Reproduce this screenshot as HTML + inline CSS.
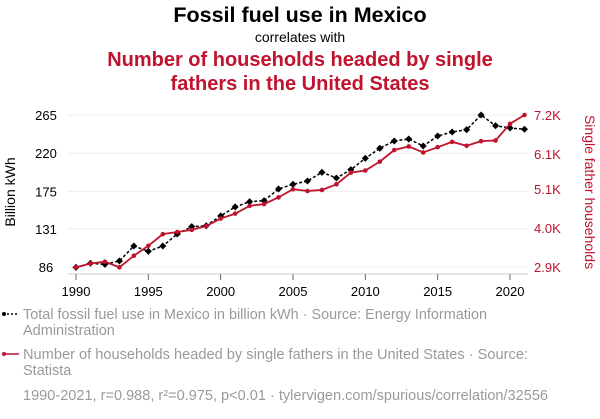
<!DOCTYPE html>
<html><head><meta charset="utf-8"><style>
body{margin:0;background:#fff;font-family:"Liberation Sans",sans-serif;}
svg text{font-family:"Liberation Sans",sans-serif;}
</style></head><body>
<svg width="600" height="414" xmlns="http://www.w3.org/2000/svg">
<text x="300" y="22" text-anchor="middle" font-size="21.5" font-weight="bold" fill="#000">Fossil fuel use in Mexico</text>
<text x="300" y="42" text-anchor="middle" font-size="14" fill="#000">correlates with</text>
<text x="300" y="66" text-anchor="middle" font-size="20" font-weight="bold" fill="#c0132e">Number of households headed by single</text>
<text x="300" y="90" text-anchor="middle" font-size="20" font-weight="bold" fill="#c0132e">fathers in the United States</text>
<g id="grid"></g><g id="axes"></g><g id="series"></g>
<text transform="translate(15,192) rotate(-90)" text-anchor="middle" font-size="14" fill="#000">Billion kWh</text>
<text transform="translate(585,192) rotate(90)" text-anchor="middle" font-size="14" fill="#c0132e">Single father households</text>
<g>
<line x1="3" y1="314" x2="19" y2="314" stroke="#000" stroke-width="1.5" stroke-dasharray="2,2"/><circle cx="4" cy="314" r="2" fill="#000"/>
<text x="23" y="319" font-size="14.5" fill="#9a9a9a" textLength="464" lengthAdjust="spacingAndGlyphs">Total fossil fuel use in Mexico in billion kWh · Source: Energy Information</text>
<text x="23" y="335" font-size="14.5" fill="#9a9a9a">Administration</text>
<line x1="3" y1="354" x2="19" y2="354" stroke="#c0132e" stroke-width="1.5"/><circle cx="4" cy="354" r="2" fill="#c0132e"/>
<text x="23" y="359" font-size="14.5" fill="#9a9a9a" textLength="505" lengthAdjust="spacingAndGlyphs">Number of households headed by single fathers in the United States · Source:</text>
<text x="23" y="375" font-size="14.5" fill="#9a9a9a">Statista</text>
<text x="23" y="400" font-size="14.5" fill="#9a9a9a" textLength="525" lengthAdjust="spacingAndGlyphs">1990-2021, r=0.988, r²=0.975, p&lt;0.01 · tylervigen.com/spurious/correlation/32556</text>
</g>
</svg>
<script>
const years=[1990,1991,1992,1993,1994,1995,1996,1997,1998,1999,2000,2001,2002,2003,2004,2005,2006,2007,2008,2009,2010,2011,2012,2013,2014,2015,2016,2017,2018,2019,2020,2021];
const fossil=[85.6,90.4,89.2,93.1,110.7,104.5,110.7,124.9,133.5,134.6,146.1,156.7,162.9,164.1,177.9,183.4,187.3,197.5,190.8,200.6,214,225.8,234.4,236.7,228.5,240.3,245,247.7,265,252.4,249.7,248.2];
const fathers=[2.89,3.00,3.05,2.89,3.22,3.50,3.83,3.89,3.95,4.06,4.27,4.41,4.63,4.68,4.87,5.10,5.05,5.08,5.24,5.57,5.63,5.88,6.21,6.31,6.14,6.29,6.44,6.33,6.46,6.48,6.95,7.20];
const leftTicks=[86,131,175,220,265];
const rightTicks=[2.9,4.0,5.1,6.1,7.2];
const rightLabels=["2.9K","4.0K","5.1K","6.1K","7.2K"];
const xTicks=[1990,1995,2000,2005,2010,2015,2020];
const NS="http://www.w3.org/2000/svg";
const x=y=>76+(y-1990)*(510-76)/30;
const yl=v=>267-(v-86)*(267-115)/(265-86);
const yr=v=>267-(v-2.9)*(267-115)/(7.2-2.9);
function mk(t,a,p){const e=document.createElementNS(NS,t);for(const k in a)e.setAttribute(k,a[k]);p.appendChild(e);return e;}
const grid=document.getElementById('grid'),axes=document.getElementById('axes'),ser=document.getElementById('series');
leftTicks.forEach(v=>{
 const g=mk('line',{x1:68,x2:528,y1:yl(v),y2:yl(v),stroke:'#eee','stroke-width':1},grid);
 
 
 const t=mk('text',{x:46,y:yl(v)+5,'text-anchor':'middle','font-size':13,fill:'#000'},axes);t.textContent=v;
 
 
});
rightTicks.forEach((v,i)=>{
 const t=mk('text',{x:534,y:yr(v)+5,'font-size':13,fill:'#c0132e'},axes);t.textContent=rightLabels[i];
 
 
});
const ax=mk('line',{x1:68,x2:528,y1:274,y2:274,stroke:'#ccc'},axes);


xTicks.forEach(v=>{
 mk('line',{x1:x(v),x2:x(v),y1:274,y2:280,stroke:'#666'},axes);
 const t=mk('text',{x:x(v),y:296,'text-anchor':'middle','font-size':13,fill:'#000'},axes);t.textContent=v;
 
 
});
const pf=mk('polyline',{points:years.map((y,i)=>x(y)+','+yl(fossil[i])).join(' '),fill:'none',stroke:'#000','stroke-width':1.5,'stroke-dasharray':'3,2'},ser);


years.forEach((y,i)=>{
 const c=mk('rect',{x:x(y)-2.5,y:yl(fossil[i])-2.5,width:5,height:5,fill:'#000',transform:`rotate(45 ${x(y)} ${yl(fossil[i])})`},ser);
 
 
});
const pr=mk('polyline',{points:years.map((y,i)=>x(y)+','+yr(fathers[i])).join(' '),fill:'none',stroke:'#c0132e','stroke-width':1.8},ser);


years.forEach((y,i)=>{
 const c=mk('circle',{cx:x(y),cy:yr(fathers[i]),r:2.3,fill:'#c0132e'},ser);
 
 
});
</script>
</body></html>
